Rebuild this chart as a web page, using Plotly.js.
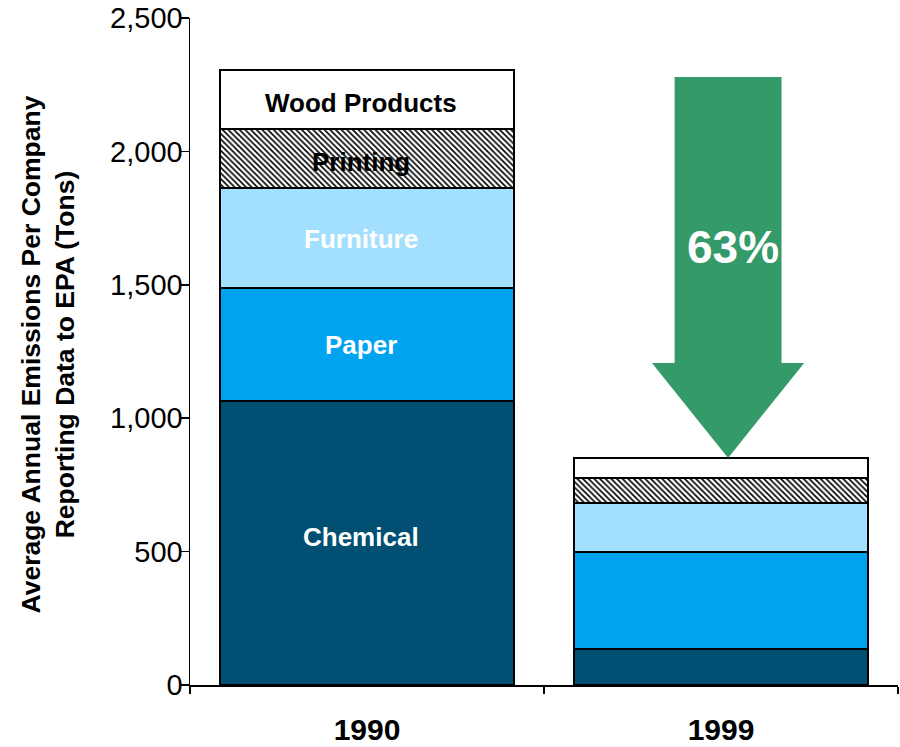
<!DOCTYPE html>
<html>
<head>
<meta charset="utf-8">
<script src="https://cdn.plot.ly/plotly-3.0.1.min.js"></script>
<style>html,body{margin:0;padding:0;background:#fff;}</style>
</head>
<body>
<div id="chart" style="width:900px;height:747px;"></div>
<script>
// ---- data ----
var years = ['1990', '1999'];
var sectors = ['Chemical', 'Paper', 'Furniture', 'Printing', 'Wood Products'];
var chemical = [1064, 135];
var paper = [424, 363];
var furniture = [375, 184];
var printing = [221, 94];
var wood = [221, 75];
var yTicks = [0, 500, 1000, 1500, 2000, 2500];

var seriesValues = [chemical, paper, furniture, printing, wood];
var colors = ['#014F72', '#00A3F0', '#A3DFFE', '#FFFFFF', '#FFFFFF'];
var textColors = ['#FFFFFF', '#FFFFFF', '#FFFFFF', '#000000', '#000000'];

var FONT = 'Liberation Sans, Arial, sans-serif';

var traces = sectors.map(function (name, i) {
  var t = {
    type: 'bar',
    name: name,
    x: years,
    y: seriesValues[i],
    hoverinfo: 'name+y',
    marker: {color: colors[i], line: {color: '#000', width: 2}}
  };
  if (name === 'Printing') {
    t.marker.pattern = {shape: '\\', fgcolor: '#000', bgcolor: '#fff', size: 4, solidity: 0.4, fillmode: 'replace'};
  }
  return t;
});

// segment labels for 1990 bar, placed at the middle of each stacked segment
// (category axes take the category's serial index for annotation positions)
var labelShift = {'Chemical': 6, 'Paper': 0, 'Furniture': -1, 'Printing': -4, 'Wood Products': -3};
var labelAnns = [];
var cum = 0;
sectors.forEach(function (name, i) {
  var v = seriesValues[i][0];
  labelAnns.push({
    xref: 'x', yref: 'y', x: 0, y: cum + v / 2, xshift: -6, yshift: labelShift[name],
    xanchor: 'center', yanchor: 'middle', showarrow: false, text: name,
    font: {family: FONT, size: 26, color: textColors[i], weight: 'bold'}
  });
  cum += v;
});

function total(idx) {
  return seriesValues.reduce(function (s, arr) { return s + arr[idx]; }, 0);
}
var t90 = total(0), t99 = total(1);
var pct = Math.round((1 - t99 / t90) * 100);

// category index -> paper x (range -0.5..1.5)
function px(c) { return (c + 0.5) / 2; }
var cx = 1.02;
var shaftHalf = 0.151, headHalf = 0.215;
var shaftTop = 2279, headBase = 1207, tip = t99;
var arrowPath = 'M ' + px(cx - shaftHalf) + ' ' + shaftTop +
  ' L ' + px(cx + shaftHalf) + ' ' + shaftTop +
  ' L ' + px(cx + shaftHalf) + ' ' + headBase +
  ' L ' + px(cx + headHalf) + ' ' + headBase +
  ' L ' + px(cx) + ' ' + tip +
  ' L ' + px(cx - headHalf) + ' ' + headBase +
  ' L ' + px(cx - shaftHalf) + ' ' + headBase + ' Z';

var layout = {
  width: 900, height: 747,
  margin: {l: 190, r: 2, t: 18, b: 62, pad: 0},
  paper_bgcolor: '#fff', plot_bgcolor: '#fff',
  showlegend: false,
  barmode: 'stack',
  bargap: 0.167,
  font: {family: FONT, color: '#000'},
  xaxis: {
    type: 'category',
    range: [-0.5, 1.5],
    showline: true, linecolor: '#000', linewidth: 1.5,
    ticks: 'outside', tickson: 'boundaries', ticklen: 7, tickcolor: '#000', tickwidth: 1.5,
    ticklabelstandoff: 17,
    tickfont: {family: FONT, size: 30, color: '#000', weight: 'bold'},
    showgrid: false, zeroline: false, fixedrange: true
  },
  yaxis: {
    range: [0, 2500],
    tickvals: yTicks,
    tickformat: ',d',
    showline: true, linecolor: '#000', linewidth: 1.5,
    ticks: 'outside', ticklen: 8, tickcolor: '#000', tickwidth: 1.5,
    ticklabelstandoff: -8,
    tickfont: {family: FONT, size: 29, color: '#000'},
    showgrid: false, zeroline: false, fixedrange: true
  },
  shapes: [{
    type: 'path', xref: 'paper', yref: 'y', path: arrowPath,
    fillcolor: '#359A69', line: {width: 0}, layer: 'above'
  }],
  annotations: labelAnns.concat([
    {
      xref: 'paper', yref: 'y', x: px(1.035), y: 1642,
      xanchor: 'center', yanchor: 'middle',
      text: pct + '%', showarrow: false,
      font: {family: FONT, size: 46, color: '#fff', weight: 'bold'}
    },
    {
      xref: 'paper', yref: 'paper', x: -(190 - 47) / 708, y: 0.5, yshift: -3,
      xanchor: 'center', yanchor: 'middle',
      text: 'Average Annual Emissions Per Company<br>Reporting Data to EPA (Tons)',
      textangle: -90, showarrow: false,
      font: {family: FONT, size: 26.5, color: '#000', weight: 'bold'}
    }
  ])
};

Plotly.newPlot('chart', traces, layout, {displayModeBar: false, staticPlot: true});
</script>
</body>
</html>
